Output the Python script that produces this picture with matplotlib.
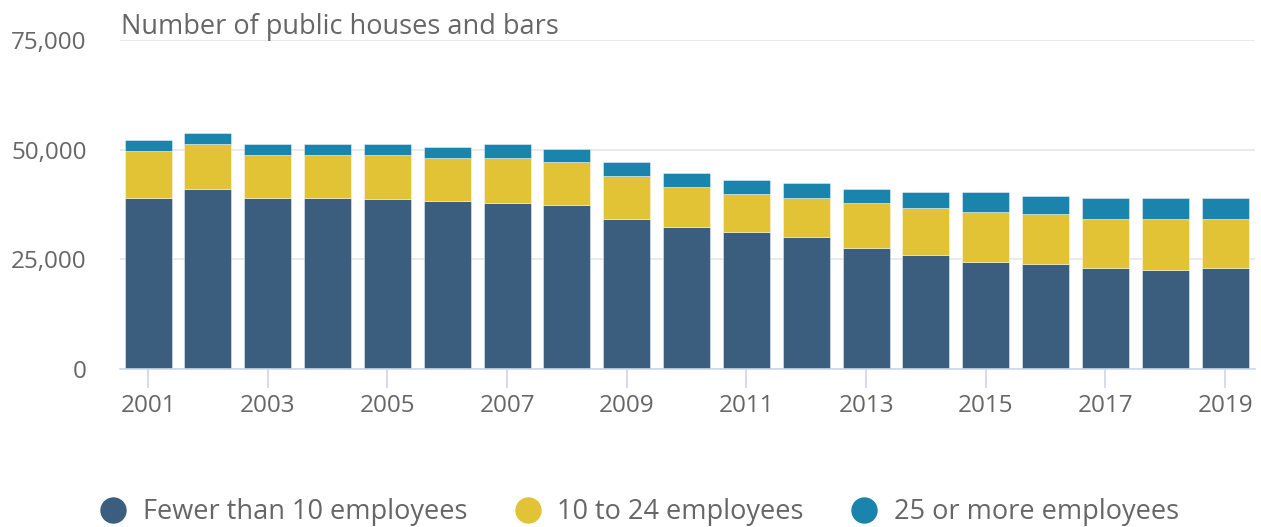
import matplotlib
matplotlib.use("Agg")
from matplotlib import pyplot as plt
from matplotlib.lines import Line2D
import numpy as np

plt.rcParams['font.family'] = ['Open Sans', 'DejaVu Sans']

# data
years = np.arange(2001, 2020)
fewer_10 = [38.9, 41.0, 38.9, 38.9, 38.8, 38.4, 37.8, 37.4, 34.3, 32.3,
            31.2, 30.2, 27.6, 26.1, 24.5, 24.0, 23.0, 22.5, 23.0]
from_10_24 = [10.8, 10.3, 9.8, 9.8, 9.9, 9.8, 10.4, 9.8, 9.8, 9.1,
              8.7, 8.7, 10.2, 10.7, 11.4, 11.3, 11.2, 11.7, 11.2]
over_25 = [2.5, 2.5, 2.6, 2.6, 2.6, 2.5, 3.1, 3.0, 3.1, 3.2,
           3.1, 3.6, 3.2, 3.6, 4.5, 4.1, 4.7, 4.7, 4.7]
labels = ["Fewer than 10 employees", "10 to 24 employees", "25 or more employees"]
colors = ["#3b5e7e", "#e3c336", "#1a84ad"]
yticks = [0, 25000, 50000, 75000]

txt = "#666666"
fig = plt.figure(figsize=(12.61, 5.27), dpi=100)
ax = fig.add_axes([120 / 1261, 1 - 369 / 527, (1255 - 120) / 1261, (369 - 40) / 527])

series = [np.array(s) * 1000 for s in (fewer_10, from_10_24, over_25)]
bottom = np.zeros(len(years))
for vals, col, lab in zip(series, colors, labels):
    ax.bar(years, vals, bottom=bottom, width=0.785, color=col,
           edgecolor=(1, 1, 1, 0.5), linewidth=0.6, label=lab, zorder=2)
    bottom += vals

ax.set_xlim(2000.53, 2019.5)
ax.set_ylim(0, 75000)
ax.set_yticks(yticks)
ax.set_yticklabels([f"{v:,}" for v in yticks])
ax.set_xticks(years[::2])

for s in ["top", "right", "left"]:
    ax.spines[s].set_visible(False)
ax.spines["bottom"].set_color("#ccd6eb")
ax.spines["bottom"].set_linewidth(1.2)
ax.yaxis.grid(True, color="#e6e6e6", linewidth=1.2, zorder=0)
ax.set_axisbelow(True)

ax.tick_params(axis="y", length=0, pad=24, labelsize=17.5, labelcolor=txt)
ax.tick_params(axis="x", length=14, width=1.2, color="#ccd6eb", pad=4,
               labelsize=17.5, labelcolor=txt)

fig.text(121 / 1261, 1 - 34 / 527, "Number of public houses and bars",
         fontsize=19.5, color=txt, va="baseline", ha="left")

handles = [Line2D([], [], marker="o", linestyle="none", markersize=18,
                  markerfacecolor=c, markeredgecolor=c) for c in colors]
fig.legend(handles, labels, loc="center", bbox_to_anchor=(0.507, 1 - 512 / 527),
           ncol=3, frameon=False, fontsize=19.5, labelcolor=txt,
           handletextpad=0.6, columnspacing=1.72, handlelength=1.0)

fig.savefig("out.png", dpi=100)
